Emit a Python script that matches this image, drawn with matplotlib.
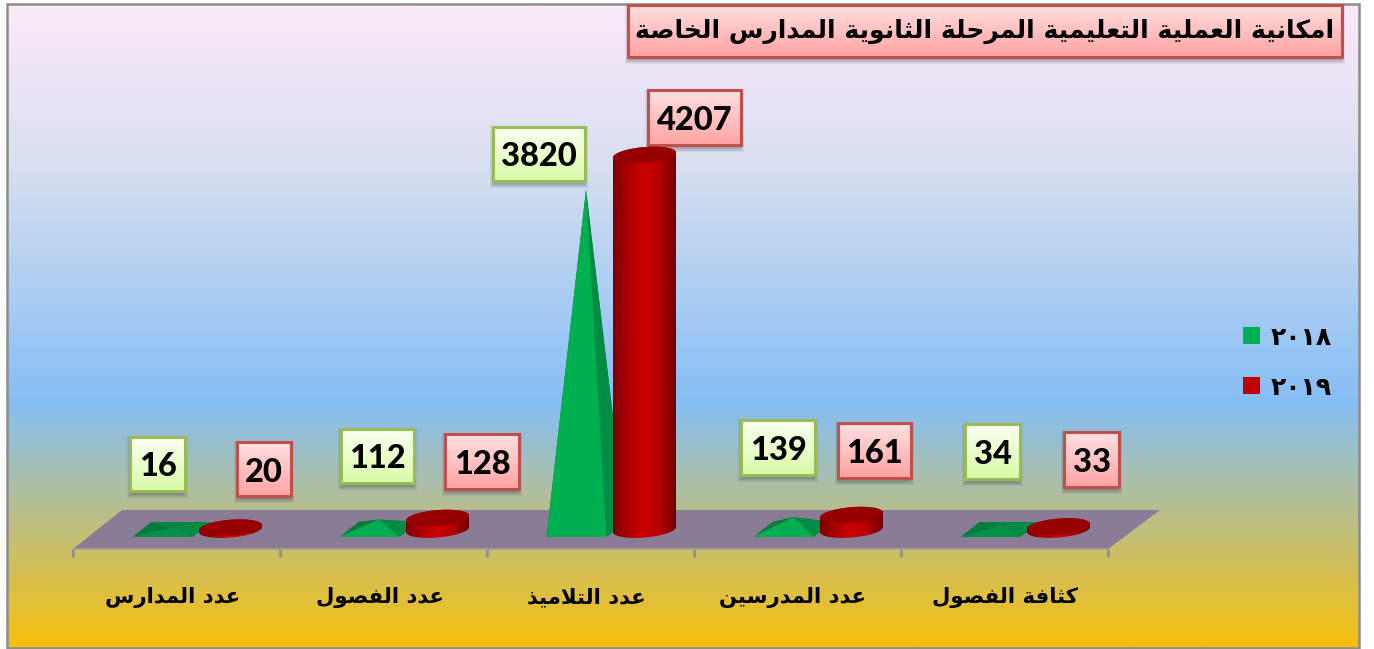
import numpy as np
from matplotlib import pyplot as plt
from matplotlib.colors import LinearSegmentedColormap
from matplotlib.patches import Patch, Polygon, Rectangle
from matplotlib.transforms import ScaledTranslation

title = 'امكانية العملية التعليمية المرحلة الثانوية المدارس الخاصة'
categories = ['عدد المدارس', 'عدد الفصول', 'عدد التلاميذ', 'عدد المدرسين', 'كثافة الفصول']
series2018 = [16, 112, 3820, 139, 34]
series2019 = [20, 128, 4207, 161, 33]
legendLabels = ['٢٠١٨', '٢٠١٩']

# label boxes were placed by hand in the original, pixels x0, y0, x1, y1
boxes2018 = [(130, 437, 185, 491), (341, 429, 414, 483), (493, 127, 585, 181),
             (741, 420, 815, 475), (965, 424, 1020, 479)]
boxes2019 = [(237, 442, 291, 496), (445, 434, 519, 489), (648, 90, 741, 145),
             (838, 423, 911, 478), (1064, 432, 1119, 487)]
labelShifts = [-4, -4, -4, -5, 1]

PX_PER_CATEGORY = 207.0
PX_PER_VALUE = 0.089

FORMS = {
    'ا': (0xFE8D, 2), 'ة': (0xFE93, 2), 'ت': (0xFE95, 4), 'ث': (0xFE99, 4),
    'ح': (0xFEA1, 4), 'خ': (0xFEA5, 4), 'د': (0xFEA9, 2), 'ذ': (0xFEAB, 2),
    'ر': (0xFEAD, 2), 'س': (0xFEB1, 4), 'ص': (0xFEB9, 4), 'ع': (0xFEC9, 4),
    'ف': (0xFED1, 4), 'ك': (0xFED9, 4), 'ل': (0xFEDD, 4), 'م': (0xFEE1, 4),
    'ن': (0xFEE5, 4), 'و': (0xFEED, 2), 'ي': (0xFEF1, 4),
}


def shape(text):
    # matplotlib has no arabic shaping, so pick the joined forms and reverse
    out = []
    i = 0
    while i < len(text):
        ch = text[i]
        if ch not in FORMS:
            out.append(ch)
            i += 1
            continue
        prev = text[i-1] if i > 0 else ' '
        joinsPrev = prev in FORMS and FORMS[prev][1] == 4
        nextCh = text[i+1] if i + 1 < len(text) else ' '
        if ch == 'ل' and nextCh == 'ا':
            out.append(chr(0xFEFC if joinsPrev else 0xFEFB))
            i += 2
            continue
        base, count = FORMS[ch]
        joinsNext = count == 4 and nextCh in FORMS
        offset = 0
        if joinsPrev and joinsNext:
            offset = 3
        elif joinsPrev:
            offset = 1
        elif joinsNext:
            offset = 2
        out.append(chr(base + offset))
        i += 1
    return ''.join(out)[::-1]


def drawBox(bg, box, top, bottom, edge, text, family, size, weight, nudge):
    x0, y0, x1, y1 = box
    for grow in range(5):
        bg.add_patch(Rectangle(
            (x0 - grow + 1, y0 + 3 - grow), x1 - x0 + 2*grow - 2,
            y1 - y0 + 2*grow, color='#303030', alpha=0.08, lw=0
        ))
    cmap = LinearSegmentedColormap.from_list('box', [top, bottom])
    bg.imshow(np.linspace(0, 1, 64).reshape(-1, 1), cmap=cmap, aspect='auto',
              extent=(x0, x1, y1, y0), origin='upper', zorder=2)
    bg.add_patch(Rectangle((x0, y0), x1 - x0, y1 - y0, fill=False, ec=edge,
                           lw=2.2, zorder=3))
    bg.text((x0 + x1)/2, (y0 + y1)/2 + nudge, text, ha='center', va='center',
            family=family, size=size, weight=weight, color='black', zorder=4)


def drawPyramid(ax, x, value):
    dx = 1 / PX_PER_CATEGORY
    dy = 1 / PX_PER_VALUE
    center = x - 4.5*dx
    fl = (center - 39.5*dx, -7.5*dy)
    fr = (center + 20.5*dx, -7.5*dy)
    br = (center + 39.5*dx, 7.5*dy)
    bl = (center - 20.5*dx, 7.5*dy)
    apex = (center, value)
    front = '#00B050' if value > 50 else '#009347'
    ax.add_patch(Polygon([bl, br, apex], color='#00863F', lw=0, zorder=2))
    ax.add_patch(Polygon([fl, bl, apex], color='#007D3A', lw=0, zorder=2))
    ax.add_patch(Polygon([fr, br, apex], color='#008C42', lw=0, zorder=2))
    ax.add_patch(Polygon([fl, fr, apex], color=front, lw=0, zorder=3))


def drawCylinder(ax, x, value):
    dx = 1 / PX_PER_CATEGORY
    dy = 1 / PX_PER_VALUE
    center = x + 54*dx
    a = 31.5
    b = 8.0
    t = np.linspace(0, np.pi, 60)
    ex = a*np.cos(t)
    ey = b*np.sin(t) + 0.08*ex
    # body: back arc at the top, front arc at the bottom
    bodyX = np.concatenate([center + ex*dx, center + ex[::-1]*dx])
    bodyY = np.concatenate([value + ey*dy, -ey[::-1]*dy + 0.16*ex[::-1]*dy])
    body = Polygon(np.column_stack([bodyX, bodyY]), color='none', lw=0)
    ax.add_patch(body)
    shade = LinearSegmentedColormap.from_list(
        'cyl', ['#7A0000', '#B00000', '#CC0000', '#B40000', '#700000']
    )
    image = ax.imshow(
        np.linspace(0, 1, 128).reshape(1, -1), cmap=shade, aspect='auto',
        extent=(center - a*dx, center + a*dx, -10*dy, value + 10*dy),
        zorder=4
    )
    image.set_clip_path(body)
    topX = np.concatenate([center + ex*dx, center + ex[::-1]*dx])
    topY = np.concatenate([value + ey*dy, value + (0.16*ex[::-1] - ey[::-1])*dy])
    ax.add_patch(Polygon(np.column_stack([topX, topY]), color='#960000', lw=0,
                         zorder=5))


plt.rcParams['font.family'] = ['DejaVu Sans']
fig = plt.figure(figsize=(13.74, 6.49), dpi=100, facecolor='white')

bg = fig.add_axes([0, 0, 1, 1], zorder=0)
bg.axis('off')

stops = [(0.0, '#FCE9F9'), (0.25, '#D8DFF0'), (0.62, '#85BEF5'), (1.0, '#F7C00E')]
backCmap = LinearSegmentedColormap.from_list('back', stops)
bg.imshow(np.linspace(0, 1, 400).reshape(-1, 1), cmap=backCmap, aspect='auto',
          extent=(7, 1359, 648, 4), origin='upper', zorder=0)
bg.add_patch(Rectangle((7, 4), 1352, 644, fill=False, ec='#8C8C8C', lw=1.8,
                       zorder=1))
bg.add_patch(Polygon([(73, 549), (1108, 549), (1160, 510), (122, 510)],
                     color='#8A7B97', lw=0, zorder=1))

drawBox(bg, (628, 5, 1342, 57), '#FFDEDE', '#FFA3A3', '#C0504D', shape(title),
        'DejaVu Sans', 18, 'bold', 0)
for box, value in zip(boxes2018, series2018):
    drawBox(bg, box, '#FBFFF2', '#D9FCA6', '#9BBB59', str(value), 'Lato', 23.5,
            900, 3)
for box, value in zip(boxes2019, series2019):
    drawBox(bg, box, '#FFE0E0', '#FFA3A3', '#C0504D', str(value), 'Lato', 23.5,
            900, 3)
bg.set_xlim(0, 1374)
bg.set_ylim(649, 0)

# chart axes: bottom edge is the front of the floor, value 0 is mid floor
ax = fig.add_axes([73/1374, 100/649, 1035/1374, 549/649], zorder=1)
ax.patch.set_visible(False)
positions = np.arange(len(categories))
for x, value in zip(positions, series2018):
    drawPyramid(ax, x, value)
for x, value in zip(positions, series2019):
    drawCylinder(ax, x, value)

ax.set_xlim(-0.5, 4.5)
yBottom = -19.5 / PX_PER_VALUE
ax.set_ylim(yBottom, yBottom + 549 / PX_PER_VALUE)
for side in ['top', 'left', 'right']:
    ax.spines[side].set_visible(False)
ax.spines['bottom'].set_color('#A8A490')
ax.spines['bottom'].set_linewidth(1.2)
ax.set_yticks([])
ax.set_xticks(np.arange(-0.5, 5, 1), labels=[])
ax.tick_params(axis='x', which='major', length=6, width=1.8, color='#8C8C96')
ax.set_xticks(positions, labels=[shape(c) for c in categories], minor=True)
ax.tick_params(axis='x', which='minor', length=0, pad=27.5, labelsize=15.3)
for label, pixels in zip(ax.get_xticklabels(minor=True), labelShifts):
    shift = ScaledTranslation(pixels/100, 0, fig.dpi_scale_trans)
    label.set_fontweight('bold')
    label.set_transform(label.get_transform() + shift)

handles = [Patch(facecolor='#00B050', lw=0), Patch(facecolor='#C00000', lw=0)]
fig.legend(
    handles, legendLabels, loc='center left',
    bbox_to_anchor=(1220/1374, 1 - 362.5/649), frameon=False, handlelength=0.68,
    handleheight=0.68, handletextpad=0.44, labelspacing=1.04,
    prop={'family': 'DejaVu Sans', 'weight': 'bold', 'size': 18}
)

plt.savefig('out.png', dpi=100)
